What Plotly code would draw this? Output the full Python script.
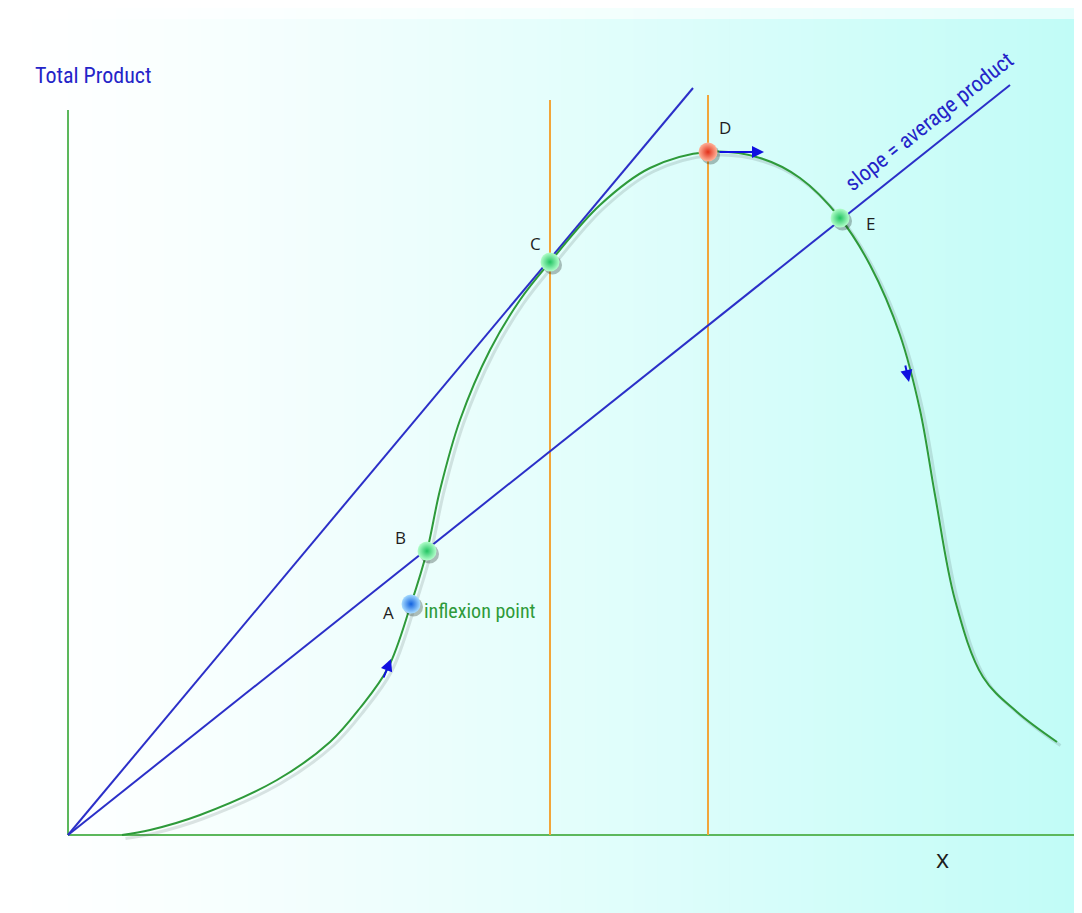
import plotly.graph_objects as go

# ---- data (x = input units, y = total product units) ----
curve_x = [5.4, 8.2, 13.2, 20.9, 26.2, 29.2, 32.0, 34.3, 35.9, 37.2, 39.2, 42.2, 45.2, 48.2, 53.2, 58.2,
           64.0, 69.2, 73.2, 77.2, 80.2, 83.2, 85.2, 86.7, 88.7, 91.5, 94.9, 98.9]
curve_y = [0.0, 0.5, 2.0, 5.5, 9.3, 12.7, 16.7, 23.1, 28.4, 34.5, 41.5, 48.5, 53.5, 57.3, 63.0, 66.7,
           68.3, 67.7, 65.7, 61.7, 57.0, 50.0, 42.5, 34.0, 23.5, 15.8, 12.3, 9.3]

point_labels = ["A", "B", "C", "D", "E"]
point_x = [34.3, 35.9, 48.2, 64.0, 77.2]
point_y = [23.1, 28.4, 57.3, 68.3, 61.7]
point_colors = ["#a8dcff", "#b4ffcc", "#b4ffcc", "#ffb49a", "#b4ffcc"]
point_edge = ["#1262e0", "#22c462", "#22c462", "#e2301a", "#22c462"]
label_x = [32.0, 33.2, 46.7, 65.7, 80.2]
label_y = [22.3, 29.8, 59.2, 70.8, 61.2]

tangent_end = (62.5, 74.7)      # ray from origin through C (max average product)
average_end = (94.2, 75.0)      # ray from origin through B and E
vline_x = [48.2, 64.0]
vline_top = [73.5, 74.0]
yaxis_top = 72.5
xaxis_right = 102.2

fig = go.Figure()

# background gradient
n = 90
shapes = []
for i in range(n):
    t = (i + 0.5) / n
    tt = t ** 1.25
    r = round(255 + (192 - 255) * tt)
    g = round(255 + (252 - 255) * tt)
    b = round(255 + (247 - 255) * tt)
    shapes.append(dict(type="rect", xref="paper", yref="paper", x0=i / n, x1=(i + 1) / n + 0.002,
                       y0=0, y1=1, line=dict(width=0), fillcolor=f"rgb({r},{g},{b})", layer="below"))
shapes.append(dict(type="rect", xref="paper", yref="paper", x0=0, x1=1, y0=0.988, y1=1.01,
                   line=dict(width=0), fillcolor="rgba(255,255,255,0.6)", layer="below"))

fig.update_layout(shapes=shapes)

# axes lines
fig.add_trace(go.Scatter(x=[0, 0], y=[yaxis_top, 0], mode="lines",
                         line=dict(color="#5cb85c", width=2), hoverinfo="skip"))
fig.add_trace(go.Scatter(x=[0, xaxis_right], y=[0, 0], mode="lines",
                         line=dict(color="#5cb85c", width=2), hoverinfo="skip"))

# orange verticals
for vx, vt in zip(vline_x, vline_top):
    fig.add_trace(go.Scatter(x=[vx, vx], y=[0, vt], mode="lines",
                             line=dict(color="#f2a53a", width=2), hoverinfo="skip"))

# blue rays
fig.add_trace(go.Scatter(x=[0, tangent_end[0]], y=[0, tangent_end[1]], mode="lines",
                         line=dict(color="#2b2fc8", width=2), hoverinfo="skip"))
fig.add_trace(go.Scatter(x=[0, average_end[0]], y=[0, average_end[1]], mode="lines",
                         line=dict(color="#2b2fc8", width=2), hoverinfo="skip"))

# curve shadow + curve
fig.add_trace(go.Scatter(x=[v + 0.35 for v in curve_x], y=[v - 0.35 for v in curve_y], mode="lines",
                         line=dict(color="rgba(60,80,80,0.16)", width=3, shape="spline", smoothing=1.0),
                         hoverinfo="skip"))
fig.add_trace(go.Scatter(x=curve_x, y=curve_y, mode="lines",
                         line=dict(color="#2e9a3a", width=2, shape="spline", smoothing=1.0),
                         hoverinfo="skip"))

# points (spheres)
fig.add_trace(go.Scatter(x=[v + 0.25 for v in point_x], y=[v - 0.3 for v in point_y], mode="markers",
                         marker=dict(size=19, color="rgba(20,40,30,0.3)", line=dict(width=0)),
                         hoverinfo="skip"))
fig.add_trace(go.Scatter(x=point_x, y=point_y, mode="markers",
                         marker=dict(size=19, color=point_colors, line=dict(width=0),
                                     gradient=dict(type="radial", color=point_edge)),
                         hoverinfo="skip"))

ann = []
# point letters
for lab, lx, ly in zip(point_labels, label_x, label_y):
    ann.append(dict(x=lx, y=ly, text=lab, showarrow=False, xref="x", yref="y",
                    font=dict(family="Open Sans, DejaVu Sans, sans-serif", size=17, color="#1e1e1e")))

cond = "Liberation Sans Narrow, Roboto Condensed, Arial Narrow, Roboto, sans-serif"
ann.append(dict(x=2.5, y=76.0, text="Total Product", showarrow=False, xref="x", yref="y",
                font=dict(family=cond, size=22, color="#2424c8")))
ann.append(dict(x=86.1, y=71.4, text="slope = average product", showarrow=False, xref="x", yref="y",
                textangle=-38.5, font=dict(family=cond, size=22, color="#2424c8")))
ann.append(dict(x=41.2, y=22.4, text="inflexion point", showarrow=False, xref="x", yref="y",
                font=dict(family=cond, size=20, color="#2e9a3a")))
ann.append(dict(x=87.4, y=-2.3, text="x", showarrow=False, xref="x", yref="y",
                font=dict(family="Open Sans, DejaVu Sans, sans-serif", size=25, color="#1e1e1e")))

# arrows
arrow_common = dict(showarrow=True, text="", xref="x", yref="y", axref="x", ayref="y",
                    arrowcolor="#1010e0", arrowwidth=2, arrowhead=2, arrowsize=1.2)
ann.append(dict(x=32.3, y=17.6, ax=31.5, ay=15.6, **arrow_common))
ann.append(dict(x=69.6, y=68.3, ax=65.0, ay=68.3, **arrow_common))
ann.append(dict(x=84.1, y=45.3, ax=83.7, ay=47.1, **arrow_common))

fig.update_layout(
    annotations=ann,
    width=1082, height=913, autosize=False,
    margin=dict(l=0, r=0, t=0, b=0),
    paper_bgcolor="white", plot_bgcolor="rgba(0,0,0,0)",
    showlegend=False,
    xaxis=dict(range=[-6.0, 102.2], visible=False, fixedrange=True),
    yaxis=dict(range=[-8.6, 82.7], visible=False, fixedrange=True),
)

fig.write_html("out.html")
